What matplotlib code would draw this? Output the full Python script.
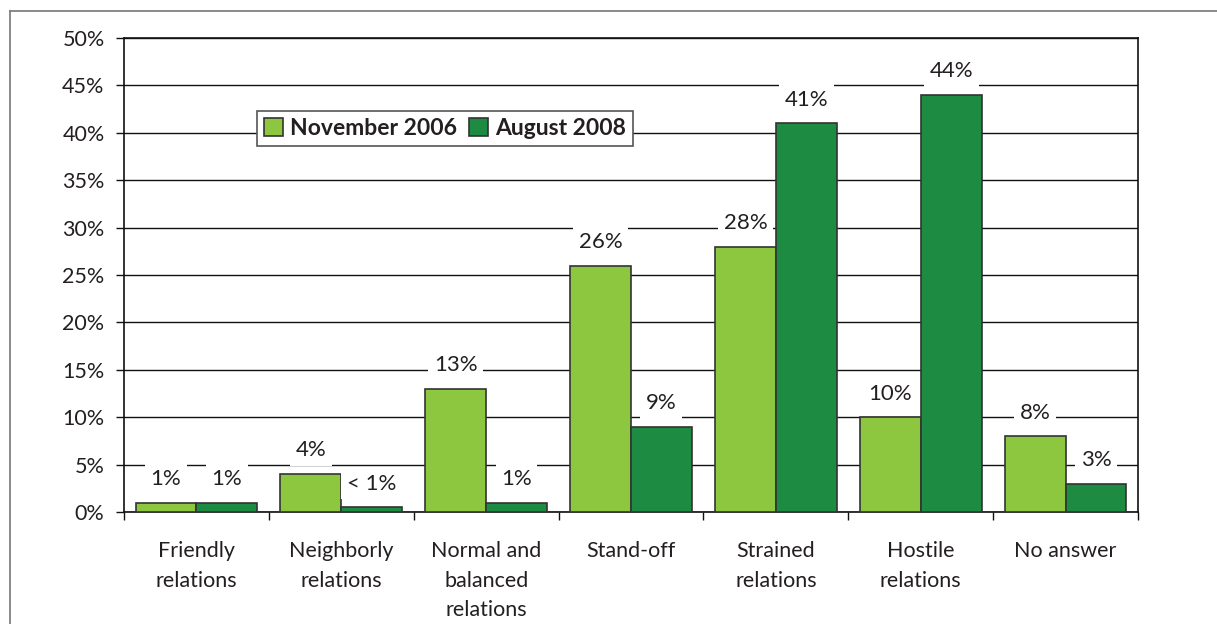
import numpy as np
import matplotlib
matplotlib.use("Agg")
import matplotlib.pyplot as plt
from matplotlib.lines import Line2D

# survey data (percent)
categories = ["Friendly\nrelations", "Neighborly\nrelations", "Normal and\nbalanced\nrelations",
              "Stand-off", "Strained\nrelations", "Hostile\nrelations", "No answer"]
nov_2006 = [1, 4, 13, 26, 28, 10, 8]
aug_2008 = [1, 0.5, 1, 9, 41, 44, 3]
nov_labels = ["1%", "4%", "13%", "26%", "28%", "10%", "8%"]
aug_labels = ["1%", "< 1%", "1%", "9%", "41%", "44%", "3%"]
series_names = ["November 2006", "August 2008"]

LIGHT = "#8DC63F"
DARK = "#1E8B43"
TXT = "#231F20"
FONT = ["Lato", "DejaVu Sans"]

plt.rcParams['font.family'] = FONT

fig = plt.figure(figsize=(12.17, 6.24), dpi=100)
ax = fig.add_axes([124/1217, 1-512/624, (1138-124)/1217, (512-38)/624])

x = np.arange(len(categories))
w = 0.42
b1 = ax.bar(x - w/2, nov_2006, w, color=LIGHT, edgecolor="#333333", linewidth=1.2, zorder=3,
            label=series_names[0])
b2 = ax.bar(x + w/2, aug_2008, w, color=DARK, edgecolor="#333333", linewidth=1.2, zorder=3,
            label=series_names[1])

for bars, labs in ((b1, nov_labels), (b2, aug_labels)):
    for r, lab in zip(bars, labs):
        ax.annotate(lab, (r.get_x() + r.get_width()/2, r.get_height()),
                    xytext=(0, 17), textcoords="offset points", ha="center", va="center",
                    fontsize=16, color=TXT, zorder=4,
                    bbox=dict(boxstyle="square,pad=0.25", fc="white", ec="none"))

ax.set_xlim(-0.5, len(categories) - 0.5)
ax.set_ylim(0, 50)
ax.set_yticks(np.arange(0, 51, 5))
ax.set_yticklabels([f"{v}%" for v in range(0, 51, 5)], fontsize=15.5, color=TXT)
ax.yaxis.grid(True, color="#111111", linewidth=1.0, zorder=0)
ax.set_axisbelow(True)
ax.tick_params(axis="y", length=6, width=1, color="#111111", pad=8)

ax.set_xticks(x)
ax.set_xticklabels(categories, fontsize=15.5, color=TXT, linespacing=1.6)
ax.tick_params(axis="x", which="major", length=0, pad=21)
ax.set_xticks(np.arange(-0.5, len(categories), 1), minor=True)
ax.tick_params(axis="x", which="minor", length=6, width=1, color="#111111")

for s in ax.spines.values():
    s.set_color("#111111")
    s.set_linewidth(1.2)

leg = ax.legend(loc="upper left", bbox_to_anchor=(0.131, 0.846), ncol=2, frameon=True,
                fancybox=False, edgecolor="#555555", framealpha=1,
                prop=dict(family=FONT, weight="bold", size=16.5),
                handlelength=0.85, handleheight=0.85, handletextpad=0.3, columnspacing=0.5,
                borderpad=0.3, borderaxespad=0)
for t in leg.get_texts():
    t.set_color(TXT)
leg.get_frame().set_linewidth(1.2)

# outer frame (left and top edges)
fig.add_artist(Line2D([10/1217, 10/1217], [0, 1-11/624], transform=fig.transFigure,
                      color="#777777", linewidth=1.2))
fig.add_artist(Line2D([10/1217, 1], [1-11/624, 1-11/624], transform=fig.transFigure,
                      color="#777777", linewidth=1.2))

fig.savefig("out.png", dpi=100)
